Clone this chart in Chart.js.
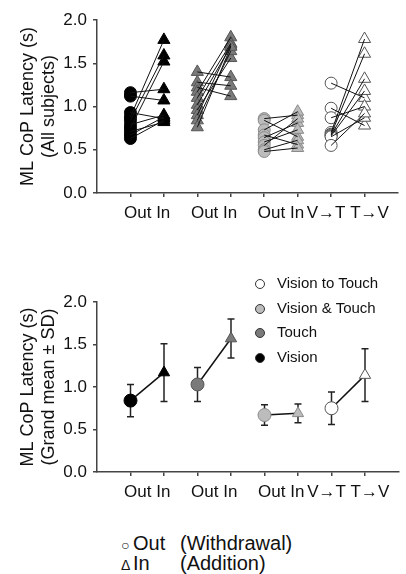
<!DOCTYPE html>
<html>
<head>
<meta charset="utf-8">
<script src="https://cdn.jsdelivr.net/npm/chart.js@4.4.0/dist/chart.umd.min.js"></script>
<style>
  body { margin: 0; background: #fff; width: 406px; height: 574px; position: relative; overflow: hidden;
         font-family: 'Liberation Sans', Arial, sans-serif; color: #111; }
  canvas { position: absolute; left: 0; }
  #topChart { top: 0; }
  #bottomChart { top: 282px; }
  #key { position: absolute; left: 255px; top: 271px; font-size: 15px; line-height: 24.7px; }
  #key .dot { display: inline-block; width: 8px; height: 8px; border-radius: 50%; border: 1px solid #333;
              margin-right: 12px; vertical-align: -1px; }
  #note { position: absolute; left: 121px; top: 534px; font-size: 20px; line-height: 18px; }
  #note .sym { display: inline-block; width: 12px; font-size: 14px; }
  #note .cond { display: inline-block; width: 47px; }
</style>
</head>
<body>
<canvas id="topChart" width="406" height="240"></canvas>
<canvas id="bottomChart" width="406" height="240"></canvas>
<div id="key"></div>
<div id="note">
  <div><span class="sym">○</span><span class="cond">Out</span>(Withdrawal)</div>
  <div><span class="sym">Δ</span><span class="cond">In</span>(Addition)</div>
</div>
<script>
// conditions: Vision, Touch, Vision & Touch, Vision to Touch
const groupNames = ['Vision', 'Touch', 'Vision & Touch', 'Vision to Touch'];
const xLabels = ['Out', 'In', 'Out', 'In', 'Out', 'In', 'V→T', 'T→V'];
const yTicks = [0, 0.5, 1.0, 1.5, 2.0];

// individual subjects (s)
const visionOut = [1.16, 1.12, 0.93, 0.88, 0.84, 0.79, 0.75, 0.71, 0.67, 0.63];
const visionIn  = [1.20, 1.07, 0.86, 1.77, 1.59, 0.90, 1.52, 0.82, 0.88, 0.84];
const touchOut  = [1.40, 1.28, 1.22, 1.17, 1.10, 1.02, 0.96, 0.90, 0.84, 0.76];
const touchIn   = [1.34, 1.24, 1.12, 1.80, 1.73, 1.70, 1.56, 1.72, 1.64, 1.69];
const bothOut   = [0.86, 0.84, 0.73, 0.67, 0.64, 0.59, 0.55, 0.50, 0.48];
const bothIn    = [0.90, 0.65, 0.94, 0.56, 0.81, 0.73, 0.86, 0.61, 0.52];
const switchOut = [1.27, 0.98, 0.87, 0.70, 0.68, 0.67, 0.66, 0.65, 0.55];
const switchIn  = [1.10, 0.78, 1.00, 1.78, 1.61, 1.32, 1.18, 0.87, 0.92];

// grand means and SD
const meanOut = [0.84, 1.03, 0.67, 0.75];
const sdOut   = [0.19, 0.20, 0.12, 0.19];
const meanIn  = [1.17, 1.57, 0.69, 1.14];
const sdIn    = [0.34, 0.23, 0.11, 0.31];

const fillColors = ['#000000', '#7a7a7a', '#bcbcbc', '#ffffff'];
const edgeColors = ['#000000', '#555555', '#8a8a8a', '#555555'];
const outShapes  = ['circle', 'triangle', 'circle', 'circle'];
const axisColor = '#444';
const fontFamily = "'Liberation Sans', Arial, sans-serif";

const subjectsOut = [visionOut, touchOut, bothOut, switchOut];
const subjectsIn  = [visionIn, touchIn, bothIn, switchIn];

Chart.defaults.font.family = fontFamily;
Chart.defaults.color = '#111';

// x labels are written per Out/In pair, centred between the two ticks
const pairLabels = {
  id: 'pairLabels',
  afterDraw(chart) {
    const { ctx, scales: { x } } = chart;
    ctx.save();
    ctx.font = '17px ' + fontFamily;
    ctx.fillStyle = '#111';
    ctx.textAlign = 'center';
    ctx.textBaseline = 'middle';
    for (let i = 0; i < xLabels.length; i += 2) {
      const px = (x.getPixelForValue(i + 1) + x.getPixelForValue(i + 2)) / 2;
      ctx.fillText(xLabels[i] + ' ' + xLabels[i + 1], px, x.top + 20.5);
    }
    ctx.restore();
  }
};

function baseOptions(titleLines, xHeight) {
  return {
    responsive: false,
    animation: false,
    devicePixelRatio: 1,
    layout: { padding: { top: 20, right: 3, left: 0, bottom: 0 } },
    plugins: { legend: { display: false }, tooltip: { enabled: false } },
    scales: {
      x: {
        type: 'linear', min: 0, max: 9,
        afterBuildTicks: s => { s.ticks = xLabels.map((_, i) => ({ value: i + 1 })); },
        afterFit: s => { s.height = xHeight; },
        grid: { drawOnChartArea: false, tickLength: 4, color: axisColor, lineWidth: 1.5 },
        border: { color: axisColor, width: 1.5 },
        ticks: { display: false }
      },
      y: {
        min: 0, max: 2,
        afterBuildTicks: s => { s.ticks = yTicks.map(v => ({ value: v })); },
        afterFit: s => { s.width = 97; },
        grid: { drawOnChartArea: false, tickLength: 4, color: axisColor, lineWidth: 1.5 },
        border: { color: axisColor, width: 1.5 },
        ticks: { padding: 6, font: { size: 17 }, callback: v => v.toFixed(1) },
        title: { display: true, text: titleLines, font: { size: 18 }, padding: { top: 17, bottom: 0 } }
      }
    }
  };
}

// --- top panel: each subject's Out -> In pair
const topSets = [];
subjectsOut.forEach((outs, g) => {
  const ins = subjectsIn[g];
  const pairs = [];
  outs.forEach((v, i) => {
    pairs.push({ x: 2 * g + 1, y: v }, { x: 2 * g + 2, y: ins[i] }, { x: 2 * g + 1.5, y: null });
  });
  topSets.push({
    data: pairs, order: 0, borderColor: '#111', borderWidth: 1, pointRadius: 0, spanGaps: false
  });
  topSets.push({
    data: outs.map(v => ({ x: 2 * g + 1, y: v })), order: 1, showLine: false,
    pointStyle: outShapes[g], pointRadius: outShapes[g] === 'triangle' ? 7 : 6,
    pointBackgroundColor: fillColors[g], pointBorderColor: edgeColors[g], pointBorderWidth: 1
  });
  topSets.push({
    data: ins.map(v => ({ x: 2 * g + 2, y: v })), order: 1, showLine: false,
    pointStyle: 'triangle', pointRadius: 7,
    pointBackgroundColor: fillColors[g], pointBorderColor: edgeColors[g], pointBorderWidth: 1
  });
});

new Chart(document.getElementById('topChart'), {
  type: 'line',
  data: { datasets: topSets },
  options: baseOptions(['ML CoP Latency (s)', '(All subjects)'], 47),
  plugins: [pairLabels]
});

// --- bottom panel: grand mean ± SD
const bottomSets = [];
meanOut.forEach((m, g) => {
  const xo = 2 * g + 1, xi = 2 * g + 2;
  bottomSets.push({
    data: [{ x: xo, y: m - sdOut[g] }, { x: xo, y: m + sdOut[g] }, { x: xo, y: null },
           { x: xi, y: meanIn[g] - sdIn[g] }, { x: xi, y: meanIn[g] + sdIn[g] }],
    order: 2, spanGaps: false, borderColor: '#222', borderWidth: 1.5,
    pointStyle: 'line', pointRadius: 3.5, pointBorderColor: '#222', pointBorderWidth: 1.5
  });
  bottomSets.push({
    data: [{ x: xo, y: m }, { x: xi, y: meanIn[g] }],
    order: 1, borderColor: '#111', borderWidth: 1.5, pointRadius: 0
  });
  bottomSets.push({
    data: [{ x: xo, y: m }], order: 0, showLine: false,
    pointStyle: 'circle', pointRadius: 6.5,
    pointBackgroundColor: fillColors[g], pointBorderColor: edgeColors[g], pointBorderWidth: 1
  });
  bottomSets.push({
    data: [{ x: xi, y: meanIn[g] }], order: 0, showLine: false,
    pointStyle: 'triangle', pointRadius: 6.5,
    pointBackgroundColor: fillColors[g], pointBorderColor: edgeColors[g], pointBorderWidth: 1
  });
});

new Chart(document.getElementById('bottomChart'), {
  type: 'line',
  data: { datasets: bottomSets },
  options: baseOptions(['ML CoP Latency (s)', '(Grand mean ± SD)'], 50),
  plugins: [pairLabels]
});

// condition key, listed from the last condition to the first
const key = document.getElementById('key');
for (let g = groupNames.length - 1; g >= 0; g--) {
  const row = document.createElement('div');
  const dot = document.createElement('span');
  dot.className = 'dot';
  dot.style.background = fillColors[g];
  row.appendChild(dot);
  row.appendChild(document.createTextNode(groupNames[g]));
  key.appendChild(row);
}
</script>
</body>
</html>
